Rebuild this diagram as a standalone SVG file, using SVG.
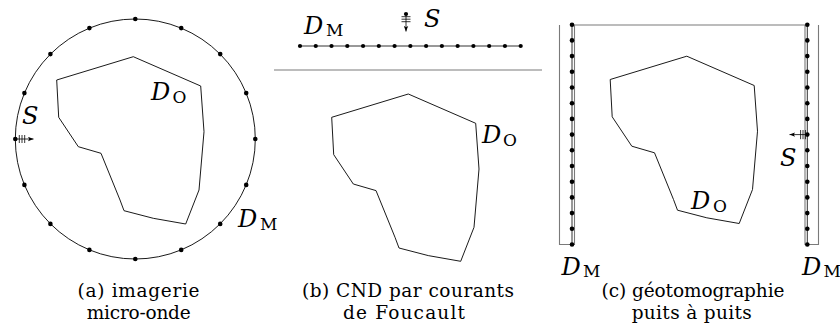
<svg xmlns="http://www.w3.org/2000/svg" xmlns:xlink="http://www.w3.org/1999/xlink" width="840" height="326" viewBox="0 0 840 326">
<style>
.ln{fill:none;stroke:#000;stroke-width:0.9}
.gr{fill:none;stroke:#7a7a7a;stroke-width:1.1}
.ch{fill:none;stroke:#333;stroke-width:1}
.dot{fill:#000}
.m{font-family:"DejaVu Serif",serif;font-style:italic;font-size:24px;fill:#000}
.sb{font-family:"DejaVu Serif",serif;font-size:17px;fill:#000}
.cap{font-family:"DejaVu Serif",serif;font-size:18.5px;fill:#000;text-anchor:middle}
.hat{stroke:#000;stroke-width:0.8}
</style>
<defs>
<marker id="ah" markerUnits="userSpaceOnUse" markerWidth="6" markerHeight="5" refX="5.5" refY="2.5" orient="auto">
<path d="M0,0.3 L5.5,2.5 L0,4.7 L1.2,2.5 z" fill="#000"/>
</marker>
<polygon id="obj" class="ln" points="56.7,80 133.3,56.7 200.7,86 204,131.7 199,190 185.7,224 153.3,218.3 124,210.7 120,200 101,153.3 78.3,146.7 58.7,117.3"/>
</defs>

<!-- Panel (a) -->
<g id="panel-a">
<circle class="ln" cx="135.3" cy="139" r="120"/>
<use xlink:href="#obj"/>
<g id="a-detectors" class="dot">
<circle cx="135.3" cy="19" r="2.3"/>
<circle cx="181.2" cy="28.1" r="2.3"/>
<circle cx="220.2" cy="54.1" r="2.3"/>
<circle cx="246.2" cy="93.1" r="2.3"/>
<circle cx="255.3" cy="139" r="2.3"/>
<circle cx="246.2" cy="184.9" r="2.3"/>
<circle cx="220.2" cy="223.9" r="2.3"/>
<circle cx="181.2" cy="249.9" r="2.3"/>
<circle cx="135.3" cy="259" r="2.3"/>
<circle cx="89.4" cy="249.9" r="2.3"/>
<circle cx="50.4" cy="223.9" r="2.3"/>
<circle cx="24.4" cy="184.9" r="2.3"/>
<circle cx="15.3" cy="139" r="2.3"/>
<circle cx="24.4" cy="93.1" r="2.3"/>
<circle cx="50.4" cy="54.1" r="2.3"/>
<circle cx="89.4" cy="28.1" r="2.3"/>
</g>
<g id="a-source">
<line x1="15.3" y1="139" x2="33.5" y2="139" stroke="#000" stroke-width="0.8" marker-end="url(#ah)"/>
<line class="hat" x1="19.3" y1="135" x2="19.3" y2="143"/>
<line class="hat" x1="22" y1="135" x2="22" y2="143"/>
<line class="hat" x1="24.7" y1="135" x2="24.7" y2="143"/>
<text class="m" x="22" y="123.5">S</text>
</g>
<g id="a-labels">
<text class="m" x="151" y="100">D</text><text class="sb" x="172.5" y="103">O</text>
<text class="m" x="238" y="227">D</text><text class="sb" x="260" y="230">M</text>
</g>
<g id="a-caption">
<text class="cap" x="138.5" y="297" textLength="122" lengthAdjust="spacing">(a) imagerie</text>
<text class="cap" x="138.7" y="319" textLength="104" lengthAdjust="spacing">micro-onde</text>
</g>
</g>

<!-- Panel (b) -->
<g id="panel-b">
<line class="gr" x1="274" y1="70" x2="542" y2="70"/>
<use xlink:href="#obj" transform="translate(275,37.3)"/>
<g id="b-detectors">
<line class="ch" x1="300" y1="46" x2="520.7" y2="46"/>
<g class="dot">
<circle cx="300" cy="46" r="2.1"/>
<circle cx="315.76" cy="46" r="2.1"/>
<circle cx="331.53" cy="46" r="2.1"/>
<circle cx="347.29" cy="46" r="2.1"/>
<circle cx="363.06" cy="46" r="2.1"/>
<circle cx="378.82" cy="46" r="2.1"/>
<circle cx="394.59" cy="46" r="2.1"/>
<circle cx="410.35" cy="46" r="2.1"/>
<circle cx="426.11" cy="46" r="2.1"/>
<circle cx="441.88" cy="46" r="2.1"/>
<circle cx="457.64" cy="46" r="2.1"/>
<circle cx="473.41" cy="46" r="2.1"/>
<circle cx="489.17" cy="46" r="2.1"/>
<circle cx="504.94" cy="46" r="2.1"/>
<circle cx="520.7" cy="46" r="2.1"/>
</g>
</g>
<g id="b-source">
<line x1="406" y1="14" x2="406" y2="31.5" stroke="#000" stroke-width="0.8" marker-end="url(#ah)"/>
<line class="hat" x1="401.5" y1="16.7" x2="410.5" y2="16.7"/>
<line class="hat" x1="401.5" y1="19.2" x2="410.5" y2="19.2"/>
<line class="hat" x1="401.5" y1="21.7" x2="410.5" y2="21.7"/>
<circle class="dot" cx="406" cy="14" r="2.1"/>
<text class="m" x="424" y="26.5">S</text>
</g>
<g id="b-labels">
<text class="m" x="304" y="33.5">D</text><text class="sb" x="326" y="35.5">M</text>
<text class="m" x="482" y="143">D</text><text class="sb" x="503" y="146">O</text>
</g>
<g id="b-caption">
<text class="cap" x="408" y="297" textLength="212" lengthAdjust="spacing">(b) CND par courants</text>
<text class="cap" x="404" y="319" textLength="122" lengthAdjust="spacing">de Foucault</text>
</g>
</g>

<!-- Panel (c) -->
<g id="panel-c">
<path class="gr" d="M559.5,25 V244.5 H574.5 V25 H805 V244.5 H818.5 V25"/>
<use xlink:href="#obj" transform="translate(553.5,-0.5)"/>
<g id="c-well-left">
<line class="ch" x1="572" y1="24.7" x2="572" y2="244.5"/>
<g class="dot">
<circle cx="572" cy="24.7" r="2.3"/>
<circle cx="572" cy="40.4" r="2.3"/>
<circle cx="572" cy="56.1" r="2.3"/>
<circle cx="572" cy="71.8" r="2.3"/>
<circle cx="572" cy="87.5" r="2.3"/>
<circle cx="572" cy="103.2" r="2.3"/>
<circle cx="572" cy="118.9" r="2.3"/>
<circle cx="572" cy="134.6" r="2.3"/>
<circle cx="572" cy="150.3" r="2.3"/>
<circle cx="572" cy="166" r="2.3"/>
<circle cx="572" cy="181.7" r="2.3"/>
<circle cx="572" cy="197.4" r="2.3"/>
<circle cx="572" cy="213.1" r="2.3"/>
<circle cx="572" cy="228.8" r="2.3"/>
<circle cx="572" cy="244.5" r="2.3"/>
</g>
</g>
<g id="c-well-right">
<line class="ch" x1="807.3" y1="24.7" x2="807.3" y2="244.5"/>
<g class="dot">
<circle cx="807.3" cy="24.7" r="2.3"/>
<circle cx="807.3" cy="40.4" r="2.3"/>
<circle cx="807.3" cy="56.1" r="2.3"/>
<circle cx="807.3" cy="71.8" r="2.3"/>
<circle cx="807.3" cy="87.5" r="2.3"/>
<circle cx="807.3" cy="103.2" r="2.3"/>
<circle cx="807.3" cy="118.9" r="2.3"/>
<circle cx="807.3" cy="134.6" r="2.3"/>
<circle cx="807.3" cy="150.3" r="2.3"/>
<circle cx="807.3" cy="166" r="2.3"/>
<circle cx="807.3" cy="181.7" r="2.3"/>
<circle cx="807.3" cy="197.4" r="2.3"/>
<circle cx="807.3" cy="213.1" r="2.3"/>
<circle cx="807.3" cy="228.8" r="2.3"/>
<circle cx="807.3" cy="244.5" r="2.3"/>
</g>
</g>
<g id="c-source">
<line x1="807.3" y1="134.6" x2="789.5" y2="134.6" stroke="#000" stroke-width="0.8" marker-end="url(#ah)"/>
<line class="hat" x1="800.6" y1="130" x2="800.6" y2="139.2"/>
<line class="hat" x1="803" y1="130" x2="803" y2="139.2"/>
<line class="hat" x1="805.4" y1="130" x2="805.4" y2="139.2"/>
<text class="m" x="780" y="166">S</text>
</g>
<g id="c-labels">
<text class="m" x="691" y="209">D</text><text class="sb" x="713" y="212">O</text>
<text class="m" x="561.5" y="274.5">D</text><text class="sb" x="583" y="277">M</text>
<text class="m" x="802" y="274.5">D</text><text class="sb" x="823.5" y="277">M</text>
</g>
<g id="c-caption">
<text class="cap" x="693" y="297" textLength="183" lengthAdjust="spacing">(c) géotomographie</text>
<text class="cap" x="691.7" y="319" textLength="120" lengthAdjust="spacing">puits à puits</text>
</g>
</g>
</svg>
